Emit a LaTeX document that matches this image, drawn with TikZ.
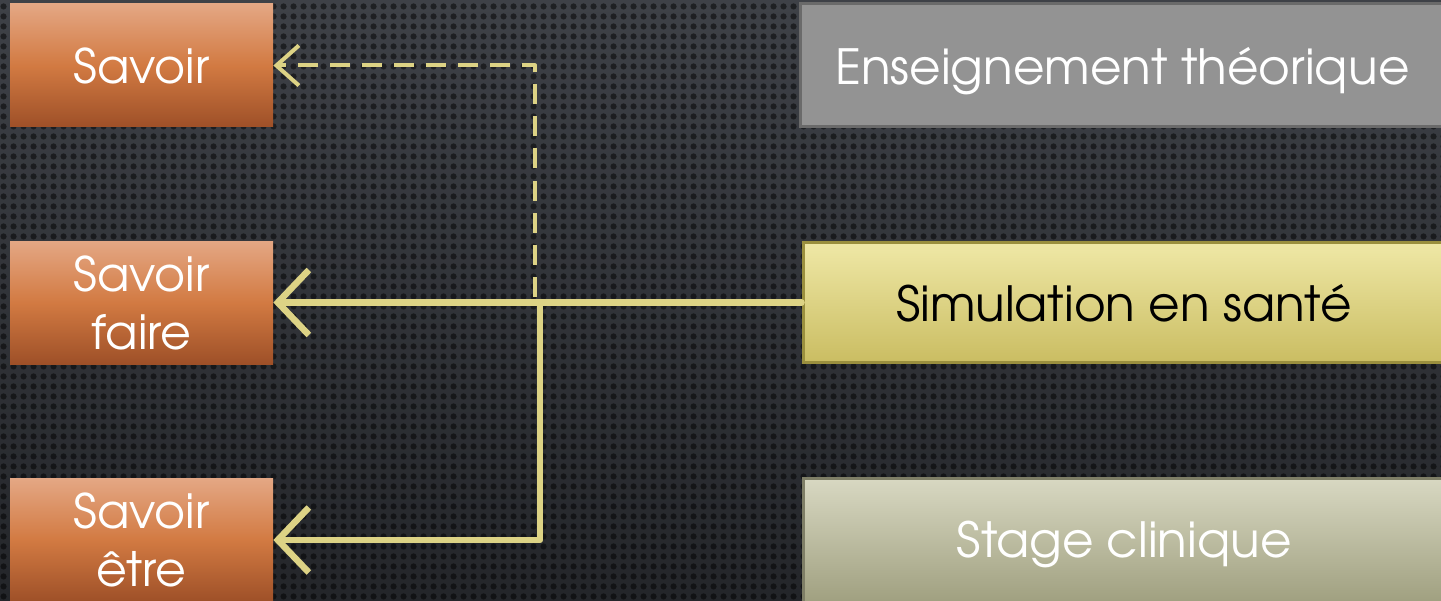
\documentclass[tikz,border=0pt]{standalone}
\usepackage{fontspec}
\setmainfont{texgyreadventor}[Extension=.otf, UprightFont=*-regular, BoldFont=*-bold, ItalicFont=*-italic, BoldItalicFont=*-bolditalic]
\usetikzlibrary{arrows.meta,patterns.meta,calc}
\definecolor{bgtop}{HTML}{3E4147}
\definecolor{bgbot}{HTML}{24262A}
\definecolor{arrowc}{HTML}{DDD385}
\definecolor{orT}{HTML}{E4A784}
\definecolor{orM}{HTML}{D27A42}
\definecolor{orB}{HTML}{9E5028}
\definecolor{grayfill}{HTML}{939393}
\definecolor{grayD}{HTML}{6A6A6A}
\definecolor{simT}{HTML}{EFE8A6}
\definecolor{simB}{HTML}{CABD62}
\definecolor{simD}{HTML}{9A8F3E}
\definecolor{stT}{HTML}{D8D8C2}
\definecolor{stB}{HTML}{A0A080}
\definecolor{stD}{HTML}{7E7E66}
\tikzdeclarepattern{name=bgdots, type=uncolored, bounding box={(0,0) and (0.2,0.2)}, tile size={(0.2,0.2)}, code={\fill (0.1,0.1) circle (0.068);}}
\tikzset{
  leftbox/.style={rectangle, minimum width=5.26cm, minimum height=2.46cm, inner sep=0pt, text=white, font=\fontsize{27}{33}\selectfont, align=center, top color=orT, bottom color=orB, middle color=orM},
  rightbox/.style={rectangle, minimum width=12.9cm, minimum height=2.46cm, inner sep=0pt, font=\fontsize{27.6}{34}\selectfont, line width=0.06cm, text depth=0pt},
  solidarrow/.style={draw=arrowc, line width=0.13cm, line cap=round, line join=round, -{Straight Barb[length=0.62cm, width=1.3cm, line width=0.13cm]}},
  dasharrow/.style={draw=arrowc, line width=0.08cm, line join=round, dash pattern=on 0.4cm off 0.24cm, -{Straight Barb[length=0.45cm, width=0.8cm, line width=0.08cm]}}
}
\begin{document}
\begin{tikzpicture}
\useasboundingbox (0,0) rectangle (28.82,12);
\clip (0,0) rectangle (28.82,12);
\shade[top color=bgtop, bottom color=bgbot] (0,0) rectangle (28.82,12);
\fill[pattern=bgdots, pattern color=black, opacity=0.5] (0,0) rectangle (28.82,12);

\node[leftbox] (sav) at (2.83,10.69) {Savoir};
\node[leftbox] (sf) at (2.83,5.95) {Savoir\\faire};
\node[leftbox] (se) at (2.83,1.2) {Savoir\\être};

\node[rightbox, text height=0.78cm, fill=grayfill, draw=grayD, text=white] (ens) at (22.45,10.69) {Enseignement théorique};
\node[rightbox, text height=0.76cm, minimum width=12.84cm, minimum height=2.4cm, top color=simT, bottom color=simB, draw=simD, text=black] (sim) at (22.48,5.95) {Simulation en santé};
\node[rightbox, text height=0.68cm, minimum width=12.84cm, minimum height=2.48cm, top color=stT, bottom color=stB, draw=stD, text=white] (st) at (22.48,1.2) {Stage clinique};

\coordinate (jx) at (10.8,0);
\coordinate (dx) at (10.7,6.07);
\draw[solidarrow] (sim.west) -- (sf.east);
\draw[solidarrow] (sf.east -| jx) |- (se.east);
\draw[dasharrow] (dx) |- (sav.east);
\end{tikzpicture}
\end{document}
